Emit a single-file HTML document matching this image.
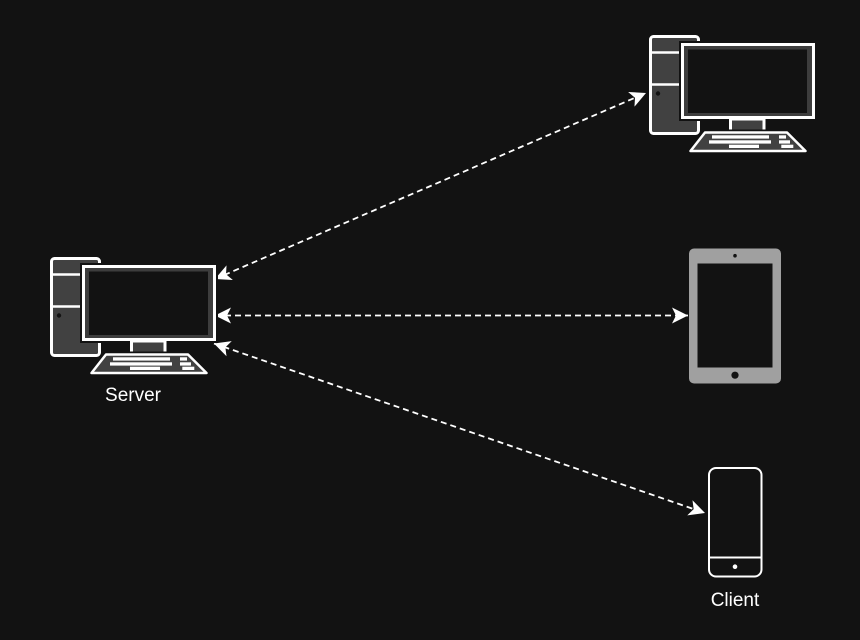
<!DOCTYPE html>
<html><head><meta charset="utf-8"><style>
html,body{margin:0;padding:0;background:#121212;}
svg{display:block;}
text{font-family:"Liberation Sans",Arial,sans-serif;font-size:19px;fill:#ffffff;}
</style></head><body>
<svg width="860" height="640" viewBox="0 0 860 640" xmlns="http://www.w3.org/2000/svg">
<defs>
<marker id="ah" markerUnits="userSpaceOnUse" viewBox="-18 -10 20 20" markerWidth="20" markerHeight="20" refX="0" refY="0" orient="auto-start-reverse">
<path d="M0,0 L-16,-8 L-12,0 L-16,8 Z" fill="#ffffff"/>
</marker>
<g id="pc">
<rect x="51.5" y="258.5" width="48" height="97" rx="3" fill="#414141" stroke="#ffffff" stroke-width="3"/>
<line x1="51.5" y1="274.5" x2="99.5" y2="274.5" stroke="#ffffff" stroke-width="2.5"/>
<line x1="51.5" y1="306.5" x2="99.5" y2="306.5" stroke="#ffffff" stroke-width="2.5"/>
<circle cx="59" cy="315.5" r="2.2" fill="#121212"/>
<rect x="83.5" y="266.5" width="131" height="73" fill="none" stroke="#121212" stroke-width="7"/>
<rect x="83.5" y="266.5" width="131" height="73" fill="#3d3d3d" stroke="#ffffff" stroke-width="3"/>
<rect x="89" y="271.5" width="119" height="63.5" fill="#121212"/>
<rect x="131.5" y="341" width="33.5" height="13" fill="#414141" stroke="#ffffff" stroke-width="3"/>
<polygon points="106,354.5 188,354.5 206.5,373 91.5,373" fill="none" stroke="#121212" stroke-width="6" stroke-linejoin="round"/>
<polygon points="106,354.5 188,354.5 206.5,373 91.5,373" fill="#414141" stroke="#ffffff" stroke-width="2.5" stroke-linejoin="round"/>
<rect x="113" y="357.3" width="57" height="3.3" fill="#ffffff"/>
<rect x="180" y="357.3" width="7" height="3.3" fill="#ffffff"/>
<rect x="110" y="362.3" width="62" height="3.3" fill="#ffffff"/>
<rect x="180" y="362.3" width="11" height="3.3" fill="#ffffff"/>
<rect x="130" y="366.7" width="30" height="3.3" fill="#ffffff"/>
<rect x="182.3" y="366.7" width="12" height="3.3" fill="#ffffff"/>
</g>
</defs>

<!-- connectors -->
<g stroke="#ffffff" stroke-width="1.8" stroke-dasharray="6 4" fill="none">
<line x1="215" y1="279" x2="646" y2="93" marker-start="url(#ah)" marker-end="url(#ah)"/>
<line x1="215" y1="315.5" x2="688" y2="315.5" marker-start="url(#ah)" marker-end="url(#ah)"/>
<line x1="214" y1="343.5" x2="705" y2="513" marker-start="url(#ah)" marker-end="url(#ah)"/>
</g>

<!-- server -->
<use href="#pc"/>
<text x="133" y="401" text-anchor="middle">Server</text>

<!-- top right pc -->
<use href="#pc" transform="translate(599,-222)"/>

<!-- tablet -->
<rect x="689" y="248.5" width="92" height="135" rx="5" fill="#a0a0a0"/>
<rect x="697.5" y="263.5" width="75" height="104" fill="#121212"/>
<circle cx="735" cy="255.7" r="1.8" fill="#121212"/>
<circle cx="735" cy="375.2" r="3.6" fill="#121212"/>

<!-- phone -->
<rect x="709" y="468" width="52.5" height="108.5" rx="7" fill="none" stroke="#ffffff" stroke-width="2"/>
<line x1="709" y1="557.5" x2="761.5" y2="557.5" stroke="#ffffff" stroke-width="2"/>
<circle cx="735" cy="566.7" r="2.3" fill="#ffffff"/>
<text x="735" y="606" text-anchor="middle">Client</text>
</svg>
</body></html>
